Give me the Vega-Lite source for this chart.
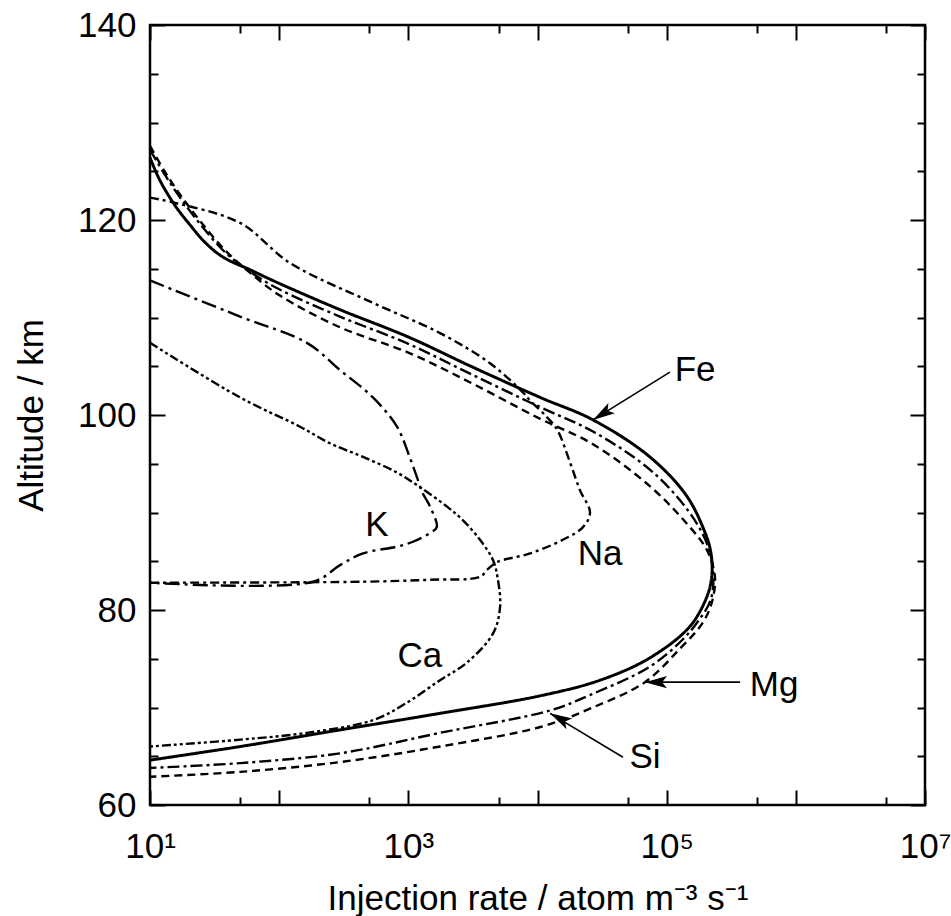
{
  "$schema": "https://vega.github.io/schema/vega-lite/v6.json",
  "width": 775,
  "height": 780,
  "autosize": {"type": "none"},
  "padding": {"left": 150, "top": 25, "right": 26, "bottom": 111},
  "background": "white",
  "config": {
    "view": {"stroke": "black", "strokeWidth": 2.5},
    "axis": {
      "domain": false, "grid": false, "tickColor": "black", "tickWidth": 2,
      "labelFont": "Liberation Sans", "labelFontSize": 35, "labelColor": "black",
      "titleFont": "Liberation Sans", "titleFontSize": 35, "titleFontWeight": "normal", "titleColor": "black",
      "labelFlush": false, "labelOverlap": false
    }
  },
  "datasets": {
    "curves": [
      {"s":"Fe","i":0,"x":10,"y":126.4},{"s":"Fe","i":1,"x":11.9,"y":124.1},{"s":"Fe","i":2,"x":15.6,"y":121.5},{"s":"Fe","i":3,"x":20.4,"y":119.5},{"s":"Fe","i":4,"x":26.7,"y":117.7},{"s":"Fe","i":5,"x":36.7,"y":116.2},{"s":"Fe","i":6,"x":59.4,"y":114.9},{"s":"Fe","i":7,"x":100,"y":113.5},{"s":"Fe","i":8,"x":296,"y":110.8},{"s":"Fe","i":9,"x":1000,"y":108.0},{"s":"Fe","i":10,"x":3160,"y":104.9},{"s":"Fe","i":11,"x":10500,"y":101.8},{"s":"Fe","i":12,"x":26900,"y":99.5},{"s":"Fe","i":13,"x":74100,"y":95.7},{"s":"Fe","i":14,"x":144500,"y":91.6},{"s":"Fe","i":15,"x":204000,"y":87.5},{"s":"Fe","i":16,"x":219000,"y":86.0},{"s":"Fe","i":17,"x":225000,"y":84.5},{"s":"Fe","i":18,"x":221000,"y":83.0},{"s":"Fe","i":19,"x":204000,"y":81.3},{"s":"Fe","i":20,"x":151000,"y":78.3},{"s":"Fe","i":21,"x":74300,"y":75.1},{"s":"Fe","i":22,"x":30500,"y":72.8},{"s":"Fe","i":23,"x":10500,"y":71.2},{"s":"Fe","i":24,"x":1760,"y":69.4},{"s":"Fe","i":25,"x":295,"y":67.7},{"s":"Fe","i":26,"x":50.1,"y":66.0},{"s":"Fe","i":27,"x":10,"y":64.6},
      {"s":"Mg","i":0,"x":10,"y":127.6},{"s":"Mg","i":1,"x":13.1,"y":124.9},{"s":"Mg","i":2,"x":17.1,"y":122.6},{"s":"Mg","i":3,"x":24.4,"y":119.9},{"s":"Mg","i":4,"x":38.1,"y":116.9},{"s":"Mg","i":5,"x":59.4,"y":114.6},{"s":"Mg","i":6,"x":100,"y":112.3},{"s":"Mg","i":7,"x":295,"y":109.0},{"s":"Mg","i":8,"x":1000,"y":106.4},{"s":"Mg","i":9,"x":3160,"y":103.2},{"s":"Mg","i":10,"x":10500,"y":99.6},{"s":"Mg","i":11,"x":26900,"y":97.0},{"s":"Mg","i":12,"x":74100,"y":92.7},{"s":"Mg","i":13,"x":144500,"y":88.8},{"s":"Mg","i":14,"x":204000,"y":86.2},{"s":"Mg","i":15,"x":236000,"y":83.5},{"s":"Mg","i":16,"x":226000,"y":81.0},{"s":"Mg","i":17,"x":190500,"y":78.7},{"s":"Mg","i":18,"x":125900,"y":76.0},{"s":"Mg","i":19,"x":67900,"y":72.6},{"s":"Mg","i":20,"x":25700,"y":69.9},{"s":"Mg","i":21,"x":10500,"y":68.0},{"s":"Mg","i":22,"x":1760,"y":66.0},{"s":"Mg","i":23,"x":295,"y":64.4},{"s":"Mg","i":24,"x":50.1,"y":63.4},{"s":"Mg","i":25,"x":10,"y":62.9},
      {"s":"Si","i":0,"x":10,"y":127.2},{"s":"Si","i":1,"x":13.1,"y":124.6},{"s":"Si","i":2,"x":17.1,"y":122.3},{"s":"Si","i":3,"x":24.4,"y":119.6},{"s":"Si","i":4,"x":38.1,"y":116.7},{"s":"Si","i":5,"x":59.4,"y":114.7},{"s":"Si","i":6,"x":100,"y":112.9},{"s":"Si","i":7,"x":295,"y":110.1},{"s":"Si","i":8,"x":1000,"y":107.3},{"s":"Si","i":9,"x":3160,"y":104.1},{"s":"Si","i":10,"x":10500,"y":100.8},{"s":"Si","i":11,"x":26900,"y":98.3},{"s":"Si","i":12,"x":74100,"y":94.4},{"s":"Si","i":13,"x":144500,"y":90.3},{"s":"Si","i":14,"x":204000,"y":86.9},{"s":"Si","i":15,"x":229000,"y":84.0},{"s":"Si","i":16,"x":218800,"y":81.0},{"s":"Si","i":17,"x":173800,"y":78.8},{"s":"Si","i":18,"x":133700,"y":77.0},{"s":"Si","i":19,"x":74300,"y":74.2},{"s":"Si","i":20,"x":25700,"y":71.3},{"s":"Si","i":21,"x":12500,"y":69.7},{"s":"Si","i":22,"x":1760,"y":67.4},{"s":"Si","i":23,"x":295,"y":65.3},{"s":"Si","i":24,"x":50.1,"y":64.3},{"s":"Si","i":25,"x":10,"y":63.8},
      {"s":"Na","i":0,"x":10,"y":122.3},{"s":"Na","i":1,"x":15.1,"y":121.8},{"s":"Na","i":2,"x":49.8,"y":119.7},{"s":"Na","i":3,"x":121,"y":115.6},{"s":"Na","i":4,"x":532,"y":111.5},{"s":"Na","i":5,"x":1760,"y":108.4},{"s":"Na","i":6,"x":4290,"y":105.3},{"s":"Na","i":7,"x":7730,"y":102.3},{"s":"Na","i":8,"x":8750,"y":101.5},{"s":"Na","i":9,"x":11800,"y":99.8},{"s":"Na","i":10,"x":14200,"y":98.5},{"s":"Na","i":11,"x":17900,"y":95.1},{"s":"Na","i":12,"x":21300,"y":92.3},{"s":"Na","i":13,"x":25500,"y":90.0},{"s":"Na","i":14,"x":22500,"y":88.5},{"s":"Na","i":15,"x":15700,"y":87.2},{"s":"Na","i":16,"x":8750,"y":85.8},{"s":"Na","i":17,"x":4850,"y":84.9},{"s":"Na","i":18,"x":4060,"y":84.1},{"s":"Na","i":19,"x":3590,"y":83.4},{"s":"Na","i":20,"x":1470,"y":83.1},{"s":"Na","i":21,"x":446,"y":82.9},{"s":"Na","i":22,"x":10,"y":82.8},
      {"s":"K","i":0,"x":10,"y":113.8},{"s":"K","i":1,"x":49.8,"y":110.1},{"s":"K","i":2,"x":164,"y":107.4},{"s":"K","i":3,"x":296,"y":104.6},{"s":"K","i":4,"x":532,"y":101.8},{"s":"K","i":5,"x":817,"y":98.8},{"s":"K","i":6,"x":1023,"y":95.7},{"s":"K","i":7,"x":1189,"y":93.3},{"s":"K","i":8,"x":1290,"y":92.0},{"s":"K","i":9,"x":1472,"y":90.6},{"s":"K","i":10,"x":1660,"y":88.5},{"s":"K","i":11,"x":1472,"y":87.9},{"s":"K","i":12,"x":1086,"y":87.0},{"s":"K","i":13,"x":817,"y":86.5},{"s":"K","i":14,"x":446,"y":85.8},{"s":"K","i":15,"x":296,"y":84.6},{"s":"K","i":16,"x":183,"y":82.9},{"s":"K","i":17,"x":10,"y":82.8},
      {"s":"Ca","i":0,"x":10,"y":107.4},{"s":"Ca","i":1,"x":49.8,"y":101.8},{"s":"Ca","i":2,"x":145,"y":98.8},{"s":"Ca","i":3,"x":247,"y":97.1},{"s":"Ca","i":4,"x":446,"y":95.7},{"s":"Ca","i":5,"x":817,"y":94.1},{"s":"Ca","i":6,"x":1230,"y":92.6},{"s":"Ca","i":7,"x":1995,"y":90.6},{"s":"Ca","i":8,"x":2650,"y":89.2},{"s":"Ca","i":9,"x":3590,"y":87.2},{"s":"Ca","i":10,"x":4530,"y":85.1},{"s":"Ca","i":11,"x":4940,"y":83.1},{"s":"Ca","i":12,"x":5130,"y":80.3},{"s":"Ca","i":13,"x":4530,"y":77.6},{"s":"Ca","i":14,"x":2840,"y":74.6},{"s":"Ca","i":15,"x":1760,"y":72.8},{"s":"Ca","i":16,"x":977,"y":70.5},{"s":"Ca","i":17,"x":532,"y":68.7},{"s":"Ca","i":18,"x":164,"y":67.4},{"s":"Ca","i":19,"x":49.8,"y":66.7},{"s":"Ca","i":20,"x":10,"y":66.0}
    ],
    "labels": [
      {"t":"Fe","x":166000,"y":104.6},{"t":"Na","x":30500,"y":85.7},{"t":"K","x":571,"y":88.7},
      {"t":"Ca","x":1230,"y":75.3},{"t":"Mg","x":678000,"y":72.3},{"t":"Si","x":67900,"y":64.9}
    ],
    "arrows": [
      {"n":"Fe","x":106000,"y":104.4,"x2":26900,"y2":99.5,"a":328},
      {"n":"Mg","x":370000,"y":72.6,"x2":68000,"y2":72.6,"a":0},
      {"n":"Si","x":45900,"y":64.9,"x2":12500,"y2":69.4,"a":28.4}
    ]
  },
  "layer": [
    {
      "data": {"name": "curves"},
      "mark": {"type": "line", "interpolate": "catmull-rom", "color": "black"},
      "encoding": {
        "x": {"field": "x", "type": "quantitative",
          "scale": {"type": "log", "domain": [10, 10000000], "nice": false},
          "axis": {"orient": "bottom", "values": [10, 100, 1000, 10000, 100000, 1000000, 10000000],
            "tickSize": 15, "offset": -15, "labelPadding": 24,
            "labelExpr": "datum.value == 10 ? '10¹' : datum.value == 1000 ? '10³' : datum.value == 100000 ? '10⁵' : datum.value == 10000000 ? '10⁷' : ''",
            "title": "Injection rate / atom m⁻³ s⁻¹", "titlePadding": 17}},
        "y": {"field": "y", "type": "quantitative",
          "scale": {"domain": [60, 140], "nice": false, "zero": false},
          "axis": {"orient": "left", "values": [60, 80, 100, 120, 140],
            "tickSize": 15, "offset": -15, "labelPadding": 14,
            "title": "Altitude / km", "titlePadding": 28}},
        "order": {"field": "i", "type": "quantitative"},
        "strokeDash": {"field": "s", "type": "nominal", "legend": null,
          "scale": {"domain": ["Fe", "Mg", "Si", "Na", "K", "Ca"],
            "range": [[1, 0], [8, 5], [12, 4, 3, 4], [9, 4, 3, 4], [15, 5, 3, 5], [9, 3, 3, 3, 3, 3]]}},
        "strokeWidth": {"condition": {"test": "datum.s === 'Fe'", "value": 3}, "value": 2.4}
      }
    },
    {
      "data": {"name": "labels"},
      "mark": {"type": "text", "font": "Liberation Sans", "fontSize": 35, "color": "black", "align": "center", "baseline": "middle"},
      "encoding": {
        "x": {"field": "x", "type": "quantitative",
          "scale": {"type": "log", "domain": [10, 10000000], "nice": false},
          "axis": {"orient": "bottom", "values": [50, 500, 5000, 50000, 500000, 5000000],
            "tickSize": 8, "offset": -8, "labels": false, "title": null}},
        "y": {"field": "y", "type": "quantitative",
          "scale": {"domain": [60, 140], "nice": false, "zero": false},
          "axis": {"orient": "left", "values": [65, 70, 75, 85, 90, 95, 105, 110, 115, 125, 130, 135],
            "tickSize": 8, "offset": -8, "labels": false, "title": null}},
        "text": {"field": "t"}
      }
    },
    {
      "data": {"name": "arrows"},
      "mark": {"type": "rule", "color": "black", "strokeWidth": 1.6},
      "encoding": {
        "x": {"field": "x", "type": "quantitative",
          "scale": {"type": "log", "domain": [10, 10000000], "nice": false},
          "axis": {"orient": "top", "values": [10, 100, 1000, 10000, 100000, 1000000, 10000000],
            "tickSize": 15, "offset": -15, "labels": false, "title": null}},
        "y": {"field": "y", "type": "quantitative",
          "scale": {"domain": [60, 140], "nice": false, "zero": false},
          "axis": {"orient": "right", "values": [60, 80, 100, 120, 140],
            "tickSize": 15, "offset": -15, "labels": false, "title": null}},
        "x2": {"field": "x2"},
        "y2": {"field": "y2"}
      }
    },
    {
      "data": {"name": "arrows"},
      "mark": {"type": "point", "shape": "M0,0 L2,-0.55 L1.55,0 L2,0.55 Z", "filled": true, "color": "black", "opacity": 1, "size": 484},
      "encoding": {
        "x": {"field": "x2", "type": "quantitative",
          "scale": {"type": "log", "domain": [10, 10000000], "nice": false},
          "axis": {"orient": "top", "values": [50, 500, 5000, 50000, 500000, 5000000],
            "tickSize": 8, "offset": -8, "labels": false, "title": null}},
        "y": {"field": "y2", "type": "quantitative",
          "scale": {"domain": [60, 140], "nice": false, "zero": false},
          "axis": {"orient": "right", "values": [65, 70, 75, 85, 90, 95, 105, 110, 115, 125, 130, 135],
            "tickSize": 8, "offset": -8, "labels": false, "title": null}},
        "angle": {"field": "a", "type": "quantitative", "scale": null}
      }
    }
  ],
  "resolve": {"axis": {"x": "independent", "y": "independent"}}
}
